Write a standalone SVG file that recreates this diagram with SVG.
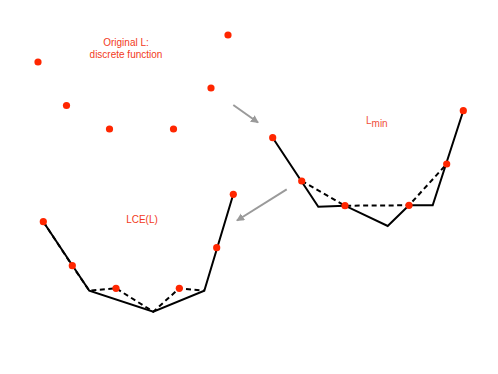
<svg xmlns="http://www.w3.org/2000/svg" width="498" height="374" viewBox="0 0 498 374">
<style>
.lbl{font-family:"Liberation Sans",Arial,sans-serif;font-size:10px;fill:#f23a22;text-anchor:middle}
.solid{fill:none;stroke:#000;stroke-width:2;stroke-linejoin:miter}
.dash{fill:none;stroke:#000;stroke-width:2;stroke-dasharray:5,3.5}
.dot{fill:#ff2600}
.arr{stroke:#9a9a9a;stroke-width:2;fill:none}
</style>
<defs>
<marker id="ah" markerWidth="10" markerHeight="10" refX="7" refY="4" orient="auto" markerUnits="userSpaceOnUse">
<path d="M0,0 L8,4 L0,8 Z" fill="#9a9a9a"/>
</marker>
</defs>
<rect width="498" height="374" fill="#fff"/>
<g id="original">
<text class="lbl" x="126" y="46">Original L:</text>
<text class="lbl" x="126" y="58">discrete function</text>
<circle class="dot" cx="38" cy="62" r="3.6"/>
<circle class="dot" cx="66.5" cy="105.5" r="3.6"/>
<circle class="dot" cx="109.5" cy="129" r="3.6"/>
<circle class="dot" cx="173.5" cy="129" r="3.6"/>
<circle class="dot" cx="211" cy="88" r="3.6"/>
<circle class="dot" cx="228" cy="35" r="3.6"/>
</g>
<g id="lmin">
<text class="lbl" x="366" y="124" style="text-anchor:start;fill:#f0503a">L<tspan font-size="10" dy="3">min</tspan></text>
<polyline class="solid" points="272.7,137.7 318.3,206.7 345,205.7 387.7,226 409,205.3 432.7,205.3 463.3,110.7"/>
<polyline class="dash" points="301.7,181 345,205.7 409,205.3 446.7,164"/>
<circle class="dot" cx="272.7" cy="137.7" r="3.6"/>
<circle class="dot" cx="301.7" cy="181" r="3.6"/>
<circle class="dot" cx="345" cy="205.7" r="3.6"/>
<circle class="dot" cx="409" cy="205.3" r="3.6"/>
<circle class="dot" cx="446.7" cy="164" r="3.6"/>
<circle class="dot" cx="463.3" cy="110.7" r="3.6"/>
</g>
<g id="lce">
<text class="lbl" x="142" y="223">LCE(L)</text>
<polyline class="solid" points="43.3,221.7 89.3,290.7 153.3,311.7 204.3,290.7 233.3,194.3"/>
<polyline class="dash" points="43.3,221.7 72.3,265.7 89.3,290.7 116,288.3 153.3,311.7 179.3,288.3 204.3,290.7"/>
<circle class="dot" cx="43.3" cy="221.7" r="3.6"/>
<circle class="dot" cx="72.3" cy="265.7" r="3.6"/>
<circle class="dot" cx="116" cy="288.3" r="3.6"/>
<circle class="dot" cx="179.3" cy="288.3" r="3.6"/>
<circle class="dot" cx="216.7" cy="247.7" r="3.6"/>
<circle class="dot" cx="233.3" cy="194.3" r="3.6"/>
</g>
<g id="connectors">
<line class="arr" x1="233.3" y1="105" x2="258" y2="122.5" marker-end="url(#ah)"/>
<line class="arr" x1="286.7" y1="189.3" x2="237" y2="220.5" marker-end="url(#ah)"/>
</g>
</svg>
